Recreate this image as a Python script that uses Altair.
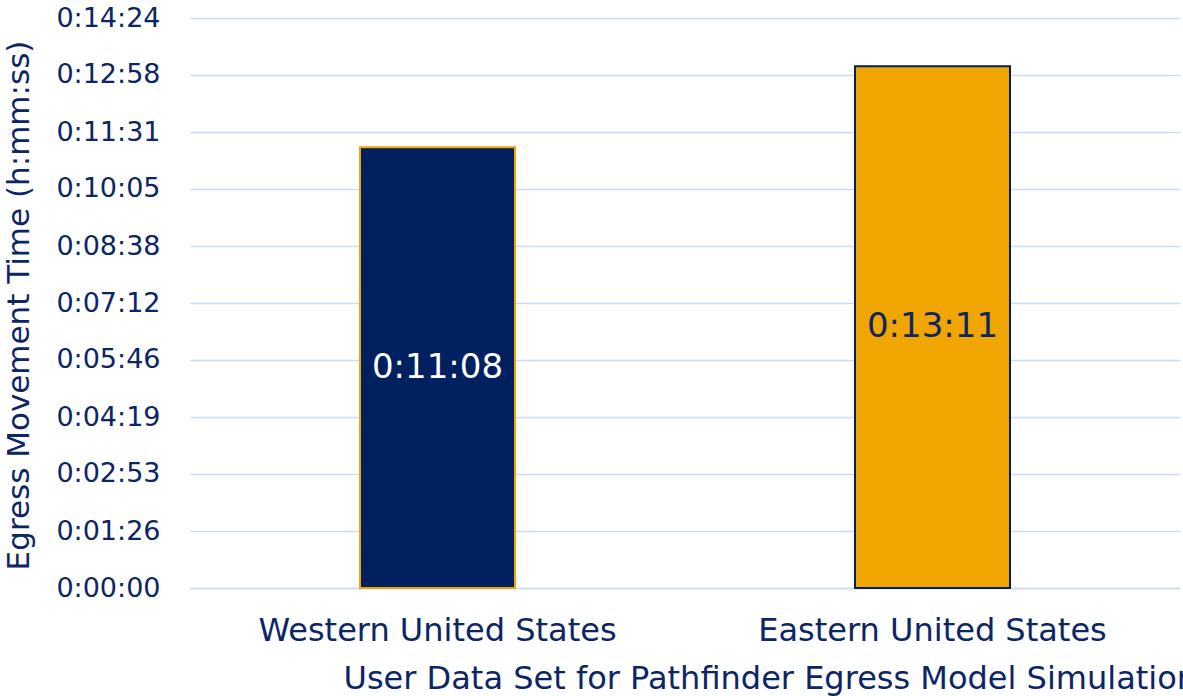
import altair as alt
import pandas as pd

# Egress movement time per user data set (h:mm:ss)
regions = ["Western United States", "Eastern United States"]
times = ["0:11:08", "0:13:11"]
fills = ["#002060", "#F0A500"]
strokes = ["#F0A500", "#002060"]
label_colors = ["#FFFFFF", "#0B2565"]

# y-axis tick labels (h:mm:ss)
tick_labels = ["0:00:00", "0:01:26", "0:02:53", "0:04:19", "0:05:46", "0:07:12",
               "0:08:38", "0:10:05", "0:11:31", "0:12:58", "0:14:24"]


def to_seconds(t):
    h, m, s = (int(p) for p in t.split(":"))
    return h * 3600 + m * 60 + s


tick_values = [to_seconds(t) for t in tick_labels]

df = pd.DataFrame({
    "region": regions,
    "seconds": [to_seconds(t) for t in times],
    "label": times,
    "fill": fills,
    "stroke": strokes,
    "label_color": label_colors,
})

TEXT = "#0B2565"
GRID = "#CCDAF5"
FONT = "DejaVu Sans"

label_expr = ("'0:' + pad(floor(round(datum.value)/60) + '', 2, '0', 'left') + ':' + "
              "pad((round(datum.value) % 60) + '', 2, '0', 'left')")

x = alt.X(
    "region:N",
    sort=regions,
    scale=alt.Scale(paddingInner=0, paddingOuter=0),
    axis=alt.Axis(
        title="User Data Set for Pathfinder Egress Model Simulation",
        labelAngle=0, labelFontSize=32, labelColor=TEXT, labelFont=FONT,
        labelPadding=27, labelLimit=0, ticks=False, domainColor=GRID, domainWidth=1.5,
        titleFontSize=32, titleColor=TEXT, titleFont=FONT, titleFontWeight="normal",
        titleAlign="left", titleAnchor="start", titleBaseline="alphabetic",
        titleX=153, titleY=100, titleLimit=0,
    ),
)
y = alt.Y(
    "seconds:Q",
    scale=alt.Scale(domain=[0, 864], nice=False),
    axis=alt.Axis(
        title="Egress Movement Time (h:mm:ss)",
        values=tick_values, labelExpr=label_expr,
        labelFontSize=27, labelColor=TEXT, labelFont=FONT, labelPadding=30,
        ticks=False, domain=False, gridColor=GRID, gridWidth=1.5,
        titleFontSize=31, titleColor=TEXT, titleFont=FONT, titleFontWeight="normal",
        titleAlign="center", titleBaseline="alphabetic", titleAngle=-90,
        titleX=-162, titleY=287, titleLimit=0,
    ),
)

bars = alt.Chart(df).mark_bar(size=155, strokeWidth=2).encode(
    x=x,
    y=y,
    fill=alt.Fill("fill:N", scale=None),
    stroke=alt.Stroke("stroke:N", scale=None),
)

labels = alt.Chart(df).mark_text(
    fontSize=34, font=FONT, baseline="middle", align="center"
).transform_calculate(
    mid="datum.seconds / 2"
).encode(
    x=alt.X("region:N", sort=regions),
    y=alt.Y("mid:Q"),
    text="label:N",
    color=alt.Color("label_color:N", scale=None),
)

chart = alt.layer(bars, labels).properties(
    width=990, height=570,
    padding={"left": 190, "top": 18, "right": 3, "bottom": 108},
    autosize=alt.AutoSizeParams(type="none"),
    background="white",
).configure_view(stroke=None)

chart.save("out.html", embed_options={"renderer": "svg", "actions": False})
